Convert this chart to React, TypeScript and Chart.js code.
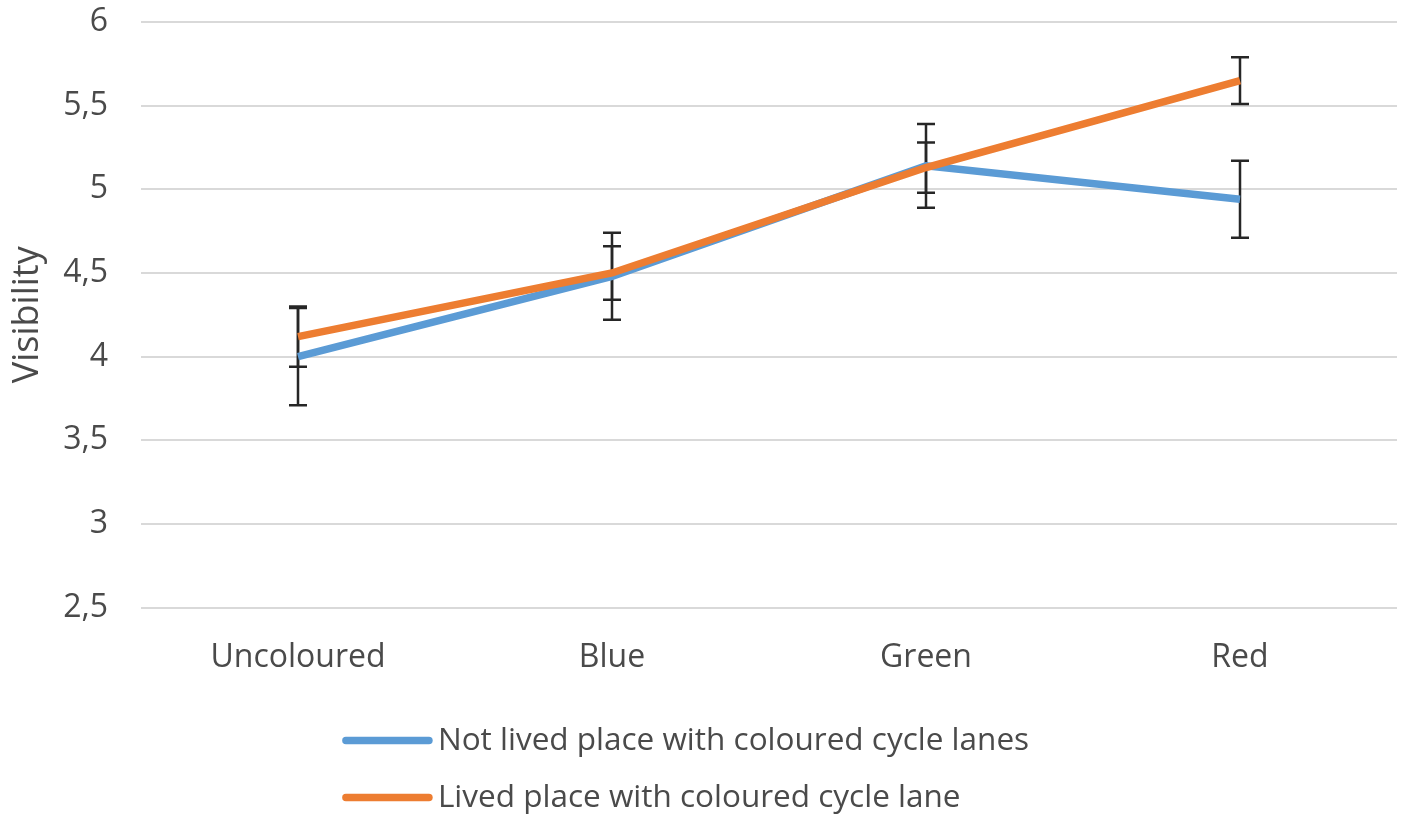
import React, { useEffect, useRef } from "react";
import { Chart, registerables } from "chart.js";

Chart.register(...registerables);

const categories = ["Uncoloured", "Blue", "Green", "Red"];
const notLivedLabel = "Not lived place with coloured cycle lanes";
const livedLabel = "Lived place with coloured cycle lane";
const notLivedValues = [4.0, 4.48, 5.14, 4.94];
const notLivedErrors = [0.29, 0.26, 0.25, 0.23];
const livedValues = [4.12, 4.5, 5.13, 5.65];
const livedErrors = [0.18, 0.16, 0.15, 0.14];
const yTicks = [2.5, 3, 3.5, 4, 4.5, 5, 5.5, 6];
const yTitle = "Visibility";

const BLUE = "#5B9BD5";
const ORANGE = "#ED7D31";
const TEXT = "#4a4a4a";
const FONT = "'Open Sans', sans-serif";

const errorBarPlugin = {
  id: "errorBars",
  beforeDatasetsDraw(chart: any) {
    const ctx = chart.ctx;
    const x = chart.scales.x;
    const y = chart.scales.y;
    ctx.save();
    ctx.strokeStyle = "#262626";
    ctx.lineWidth = 2.5;
    chart.data.datasets.forEach((ds: any) => {
      ds.data.forEach((v: number, i: number) => {
        const e = ds.errors[i];
        const px = x.getPixelForValue(i);
        const top = y.getPixelForValue(v + e);
        const bot = y.getPixelForValue(v - e);
        ctx.beginPath();
        ctx.moveTo(px, top);
        ctx.lineTo(px, bot);
        ctx.moveTo(px - 9, top);
        ctx.lineTo(px + 9, top);
        ctx.moveTo(px - 9, bot);
        ctx.lineTo(px + 9, bot);
        ctx.stroke();
      });
    });
    ctx.restore();
  },
};

const legendPlugin = {
  id: "stackedLegend",
  afterDraw(chart: any) {
    const ctx = chart.ctx;
    const area = chart.chartArea;
    const items = chart.data.datasets
      .map((d: any) => d)
      .sort((a: any, b: any) => a.legendIndex - b.legendIndex);
    ctx.save();
    ctx.font = `31.5px ${FONT}`;
    const lineLen = 89;
    const gap = 6;
    const maxW = Math.max(...items.map((d: any) => ctx.measureText(d.label).width));
    const blockW = lineLen + gap + maxW;
    const startX = chart.width / 2 - blockW / 2 - 17;
    items.forEach((d: any, i: number) => {
      const cy = area.bottom + 133 + i * 57;
      ctx.strokeStyle = d.borderColor;
      ctx.lineWidth = 7.5;
      ctx.lineCap = "round";
      ctx.beginPath();
      ctx.moveTo(startX + 3, cy);
      ctx.lineTo(startX + lineLen - 3, cy);
      ctx.stroke();
      ctx.fillStyle = TEXT;
      ctx.textBaseline = "middle";
      ctx.textAlign = "left";
      ctx.fillText(d.label, startX + lineLen + gap, cy);
    });
    ctx.restore();
  },
};

export default function App() {
  const ref = useRef<HTMLCanvasElement>(null);
  useEffect(() => {
    document.body.style.margin = "0";
    const chart = new Chart(ref.current!, {
      type: "line",
      data: {
        labels: categories,
        datasets: [
          {
            label: notLivedLabel,
            data: notLivedValues,
            errors: notLivedErrors,
            legendIndex: 0,
            borderColor: BLUE,
            backgroundColor: BLUE,
            borderWidth: 7.5,
            pointRadius: 0,
            tension: 0,
            order: 1,
          } as any,
          {
            label: livedLabel,
            data: livedValues,
            errors: livedErrors,
            legendIndex: 1,
            borderColor: ORANGE,
            backgroundColor: ORANGE,
            borderWidth: 7.5,
            pointRadius: 0,
            tension: 0,
            order: 0,
          } as any,
        ],
      },
      options: {
        animation: false,
        responsive: false,
        layout: { padding: { top: 22, right: 9, bottom: 128, left: 6 } },
        plugins: {
          legend: { display: false },
          tooltip: { enabled: false },
        },
        scales: {
          x: {
            offset: true,
            grid: { display: false, drawTicks: false },
            border: { display: false },
            ticks: { color: TEXT, font: { family: FONT, size: 32 }, padding: 31 },
          },
          y: {
            min: 2.5,
            max: 6,
            afterBuildTicks: (axis: any) => {
              axis.ticks = yTicks.map((v) => ({ value: v }));
            },
            afterFit: (axis: any) => {
              axis.width = 135;
              axis.paddingTop = 0;
              axis.paddingBottom = 0;
            },
            grid: { color: "#d9d9d9", lineWidth: 2, drawTicks: false },
            border: { display: false },
            ticks: {
              color: TEXT,
              font: { family: FONT, size: 32 },
              padding: 33,
              callback: (v: any) => String(v).replace(".", ","),
            },
            title: {
              display: true,
              text: yTitle,
              color: TEXT,
              font: { family: FONT, size: 36 },
              padding: { top: 0, bottom: 0 },
            },
          },
        },
      },
      plugins: [errorBarPlugin, legendPlugin],
    });
    return () => chart.destroy();
  }, []);
  return (
    <div style={{ width: 1406, height: 836, background: "#fff" }}>
      <canvas ref={ref} width={1406} height={836} style={{ display: "block" }} />
    </div>
  );
}
